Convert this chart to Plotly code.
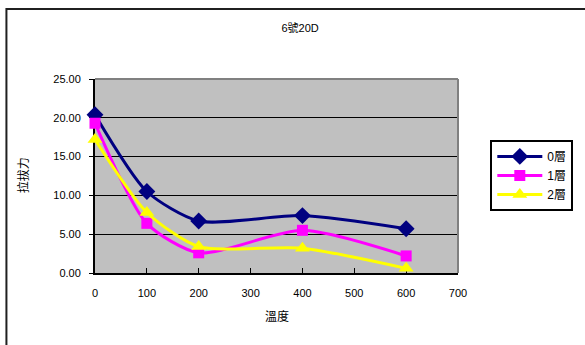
import plotly.graph_objects as go

# Pull-out force vs temperature for three layer counts
temperature = [0, 100, 200, 400, 600]
layer0 = [20.4, 10.5, 6.7, 7.4, 5.7]
layer1 = [19.3, 6.4, 2.6, 5.5, 2.2]
layer2 = [17.2, 7.8, 3.4, 3.2, 0.6]

series_names = ["0層", "1層", "2層"]
series_values = [layer0, layer1, layer2]
series_colors = ["#000080", "#FF00FF", "#FFFF00"]
series_symbols = ["diamond", "square", "triangle-up"]
series_sizes = [13, 11, 13]

FONT = "Liberation Sans, Arial, Noto Sans CJK TC, sans-serif"

fig = go.Figure()
for name, vals, col, sym, sz in zip(series_names, series_values, series_colors,
                                    series_symbols, series_sizes):
    fig.add_trace(go.Scatter(
        x=temperature, y=vals, name=name, mode="lines+markers",
        line=dict(color=col, width=3, shape="spline", smoothing=0.7),
        marker=dict(symbol=sym, size=sz, color=col),
        cliponaxis=False,
    ))

# plot-area frame: grey on top and right
fig.add_shape(type="line", xref="paper", yref="paper", x0=0, x1=1, y0=1, y1=1,
              line=dict(color="#808080", width=2), layer="above")
fig.add_shape(type="line", xref="paper", yref="paper", x0=1, x1=1, y0=0, y1=1,
              line=dict(color="#808080", width=2), layer="above")
# outer chart frame
fig.add_shape(type="rect", xref="paper", yref="paper",
              x0=-0.244, x1=1.40, y0=-0.45, y1=1.361,
              line=dict(color="#202020", width=2), layer="above")

fig.add_annotation(text="拉拔力", xref="paper", yref="paper", x=-0.198, y=0.505,
                   xanchor="center", yanchor="middle",
                   showarrow=False, textangle=-90,
                   font=dict(family=FONT, size=12, color="black"))
fig.add_annotation(text="溫度", xref="paper", yref="paper", x=0.501, y=-0.222,
                   xanchor="center", yanchor="middle",
                   showarrow=False, font=dict(family=FONT, size=12, color="black"))

fig.update_layout(
    width=585, height=345,
    margin=dict(l=95, r=121, t=79, b=72),
    paper_bgcolor="white",
    plot_bgcolor="#C0C0C0",
    font=dict(family=FONT, size=11, color="black"),
    title=dict(text="6號20D", x=0.513, xanchor="center", y=0.919, yanchor="middle",
               font=dict(family=FONT, size=11, color="black")),
    showlegend=True,
    legend=dict(x=1.089, xanchor="left", y=0.686, yanchor="top",
                bordercolor="black", borderwidth=2, bgcolor="white",
                font=dict(family=FONT, size=12, color="black"),
                itemwidth=45),
    xaxis=dict(range=[0, 700], dtick=100, tick0=0, showgrid=False, zeroline=False,
               showline=True, linecolor="black", linewidth=2,
               ticks="inside", ticklen=5, tickcolor="black", tickwidth=1,
               ticklabelstandoff=9, layer="below traces"),
    yaxis=dict(range=[0, 25], dtick=5, tick0=0, tickformat=".2f",
               showgrid=True, gridcolor="black", gridwidth=1, zeroline=False,
               showline=True, linecolor="black", linewidth=2,
               ticks="outside", ticklen=4, tickcolor="black", tickwidth=1,
               ticklabelstandoff=6, layer="below traces"),
)

fig.write_html("out.html")
